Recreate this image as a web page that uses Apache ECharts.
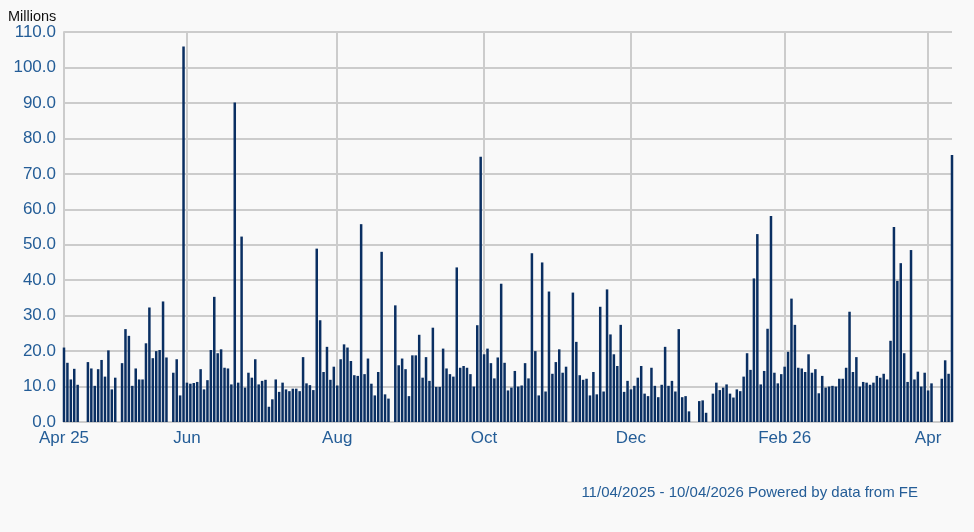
<!DOCTYPE html>
<html>
<head>
<meta charset="utf-8">
<title>Daily volume</title>
<script src="https://cdn.jsdelivr.net/npm/echarts@6/dist/echarts.min.js"></script>
<style>
  html, body { margin: 0; padding: 0; background: #f9f9f9; }
  #main { width: 974px; height: 532px; }
</style>
</head>
<body>
<div id="main"></div>
<script>
// daily volume in millions, one entry per weekday (null = no trading / no data)
const apr2025 = [21, 16.7, 12, 15, 10.5, null, null, 16.9, 15.1, 10.2, 14.9, 17.5, 12.8, 20.2];
const may2025 = [9.2, 12.5, null, 16.6, 26.2, 24.3, 10.2, 15.1, 12, 12, 22.2, 32.3, 18, 20, 20.3, 34, 18.2, null, 13.9, 17.7, 7.5, 105.9];
const jun2025 = [11.1, 10.8, 11, 11.3, 14.9, 9.2, 11.8, 20.3, 35.3, 19.4, 20.5, 15.3, 15.1, 10.6, 90.1, 11.1, 52.3, 9.7, 13.9, 12.5, 17.7];
const jul2025 = [10.6, 11.6, 11.9, 4.3, 6.4, 12, 8.5, 11.1, 9.2, 8.7, 9.4, 9.4, 8.7, 18.3, 10.9, 10.4, 9, 48.9, 28.7, 14.1, 21.2, 11.9, 15.6];
const aug2025 = [10.3, 17.7, 21.9, 21, 17.2, 13.2, 13, 55.8, 13.5, 17.9, 10.8, 7.5, 14.1, 48, 7.8, 6.6, null, 32.9, 16, 17.9, 14.9];
const sep2025 = [7.3, 18.8, 18.8, 24.6, 12.5, 18.3, 11.6, 26.6, 9.9, 9.9, 20.7, 15.1, 13.5, 12.8, 43.6, 15.3, 15.8, 15.3, 13.5, 10, 27.3, 74.8];
const oct2025 = [19.1, 20.7, 16.6, 12.3, 18.2, 39, 16.7, 8.9, 9.7, 14.4, 10, 10.3, 16.6, 12.3, 47.6, 20, 7.5, 45, 8.6, 36.8, 13.6, 16.9, 20.5];
const nov2025 = [13.9, 15.6, null, 36.5, 22.6, 13.2, 11.9, 12.2, 7.5, 14.1, 7.8, 32.5, 8.6, 37.4, 24.7, 19.1, 15.8, 27.4, 8.5, 11.6];
const dec2025 = [9.2, 10.2, 12.5, 15.8, 8, 7.3, 15.3, 10.2, 7, 10.5, 21.2, 10.2, 11.6, 8.6, 26.2, 7, 7.3, 3, null, null, 5.9, 6.1, 2.6];
const jan2026 = [null, 8, 11.1, 9, 9.7, 10.6, 8, 6.9, 9.2, 8.7, 12.8, 19.4, 14.7, 40.5, 53, 10.6, 14.4, 26.3, 58.1, 13.9, 10.9, 13.5];
const feb2026 = [15.6, 19.8, 34.8, 27.4, 15.3, 15.1, 14.1, 19.1, 13.9, 14.9, 8.1, 13, 9.7, 10, 10.2, 10, 12.2, 12.2, 15.3, 31.1];
const mar2026 = [14.1, 18.3, 10, 11.3, 11.1, 10.5, 11.1, 13, 12.5, 13.6, 12, 22.9, 55, 39.8, 44.8, 19.4, 11.3, 48.5, 12, 14.2, 10, 13.9];
const apr2026 = [8.9, 10.9, null, null, 12.2, 17.4, 13.6, 75.3];

// x axis labels and the weekday they sit on
const tickDates = ['2025-04-11', '2025-06-02', '2025-08-01', '2025-10-01', '2025-12-01', '2026-02-02', '2026-04-01'];
const tickLabels = ['Apr 25', 'Jun', 'Aug', 'Oct', 'Dec', 'Feb 26', 'Apr'];

const startDate = '2025-04-11';
const endDate = '2026-04-10';

// build the weekday categories
const days = [];
for (let t = Date.parse(startDate); t <= Date.parse(endDate); t += 86400000) {
    const d = new Date(t);
    const wd = d.getUTCDay();
    if (wd === 0 || wd === 6) continue;
    days.push(d.toISOString().slice(0, 10));
}

const volumes = [].concat(apr2025, may2025, jun2025, jul2025, aug2025, sep2025,
    oct2025, nov2025, dec2025, jan2026, feb2026, mar2026, apr2026);

const isTick = (index, value) => tickDates.indexOf(days[index]) !== -1;
const blue = '#245d97';
const gridGrey = '#cccccc';
const font = '"Liberation Sans", Arial, sans-serif';

const chart = echarts.init(document.getElementById('main'));

const option = {
    backgroundColor: '#f9f9f9',
    animation: false,
    textStyle: { fontFamily: font },
    grid: { left: 64, right: 22, top: 32, bottom: 110 },
    graphic: [
        {
            type: 'text', left: 8, top: 9,
            style: { text: 'Millions', fill: '#111', font: '14.5px ' + font }
        },
        {
            type: 'text', right: 56, top: 485,
            style: { text: '11/04/2025 - 10/04/2026 Powered by data from FE', fill: blue, font: '15px ' + font }
        }
    ],
    xAxis: {
        type: 'category',
        data: days,
        boundaryGap: false,
        axisLine: { lineStyle: { color: gridGrey, width: 2 } },
        axisTick: { show: false },
        axisLabel: {
            interval: isTick,
            color: blue,
            fontSize: 17,
            margin: 8,
            formatter: value => tickLabels[tickDates.indexOf(value)]
        },
        splitLine: {
            show: true,
            interval: isTick,
            lineStyle: { color: gridGrey, width: 2 }
        }
    },
    yAxis: {
        type: 'value',
        min: 0,
        max: 110,
        interval: 10,
        axisLine: { show: true, lineStyle: { color: gridGrey, width: 2 } },
        axisTick: { show: false },
        axisLabel: {
            color: blue,
            fontSize: 17,
            margin: 8,
            formatter: v => v.toFixed(1)
        },
        splitLine: { lineStyle: { color: gridGrey, width: 2 } }
    },
    series: [
        {
            name: 'Volume',
            type: 'bar',
            data: volumes,
            barWidth: 2.5,
            itemStyle: { color: '#0a2f62' }
        }
    ]
};

chart.setOption(option);
</script>
</body>
</html>
